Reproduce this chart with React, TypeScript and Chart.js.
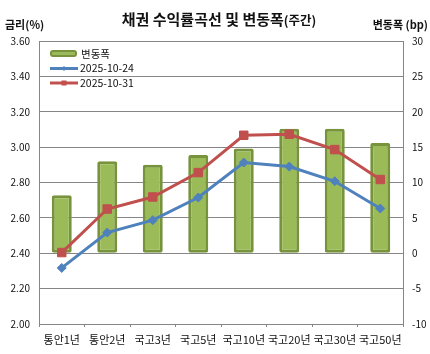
import React, { useEffect, useRef } from "react";
import { Chart, registerables } from "chart.js";

Chart.register(...registerables);

const categories = ["통안1년", "통안2년", "국고3년", "국고5년", "국고10년", "국고20년", "국고30년", "국고50년"];
const changeBp = [8.2, 13.0, 12.5, 13.9, 14.8, 17.6, 17.6, 15.6];
const yield1024 = [2.317, 2.517, 2.587, 2.715, 2.913, 2.89, 2.807, 2.653];
const yield1031 = [2.404, 2.65, 2.718, 2.856, 3.067, 3.073, 2.986, 2.817];
const legendLabels = ["변동폭", "2025-10-24", "2025-10-31"];
const titleMain = "채권 수익률곡선 및 변동폭";
const titleSub = "(주간)";
const leftAxisTitle = "금리(%)";
const rightAxisTitle = "변동폭 (bp)";

const FONT = "'Malgun Gothic', 'Noto Sans CJK KR', sans-serif";
const GREEN = "#9BBB59";
const GREEN_BORDER = "#77933C";
const BLUE = "#4F81BD";
const RED = "#C0504D";
const GRID = "#868686";

const decorPlugin = {
  id: "decor",
  afterDraw(chart: any) {
    const ctx = chart.ctx;
    ctx.save();
    ctx.fillStyle = "#111";
    ctx.textBaseline = "middle";
    // title
    ctx.font = `bold 15px ${FONT}`;
    const w1 = ctx.measureText(titleMain).width;
    ctx.font = `bold 12.5px ${FONT}`;
    const w2 = ctx.measureText(titleSub).width;
    const start = 219 - (w1 + w2) / 2;
    ctx.textAlign = "left";
    ctx.font = `bold 15px ${FONT}`;
    ctx.fillText(titleMain, start, 19);
    ctx.font = `bold 12.5px ${FONT}`;
    ctx.fillText(titleSub, start + w1, 20);
    // axis titles
    ctx.font = `bold 11px ${FONT}`;
    ctx.fillText(leftAxisTitle, 5, 25);
    ctx.textAlign = "right";
    ctx.fillText(rightAxisTitle, 428, 25);

    // legend
    ctx.textAlign = "left";
    ctx.font = `10.5px ${FONT}`;
    // bar item
    ctx.fillStyle = GREEN;
    ctx.strokeStyle = GREEN_BORDER;
    ctx.lineWidth = 2;
    ctx.beginPath();
    (ctx as any).roundRect ? ctx.roundRect(51, 51, 25, 5, 2) : ctx.rect(51, 51, 25, 5);
    ctx.fill();
    ctx.stroke();
    ctx.fillStyle = "#111";
    ctx.fillText(legendLabels[0], 81, 54);
    // blue line item
    ctx.strokeStyle = BLUE;
    ctx.lineWidth = 3;
    ctx.beginPath();
    ctx.moveTo(50, 68.5);
    ctx.lineTo(78, 68.5);
    ctx.stroke();
    ctx.fillStyle = BLUE;
    ctx.beginPath();
    ctx.moveTo(64, 66);
    ctx.lineTo(66.5, 68.5);
    ctx.lineTo(64, 71);
    ctx.lineTo(61.5, 68.5);
    ctx.closePath();
    ctx.fill();
    ctx.fillStyle = "#111";
    ctx.fillText(legendLabels[1], 80, 68.5);
    // red line item
    ctx.strokeStyle = RED;
    ctx.lineWidth = 3;
    ctx.beginPath();
    ctx.moveTo(50, 83);
    ctx.lineTo(78, 83);
    ctx.stroke();
    ctx.fillStyle = RED;
    ctx.fillRect(61.5, 80.5, 5, 5);
    ctx.fillStyle = "#111";
    ctx.fillText(legendLabels[2], 80, 83);
    ctx.restore();
  },
};

export default function App() {
  const ref = useRef<HTMLCanvasElement>(null);
  useEffect(() => {
    if (!ref.current) return;
    const chart = new Chart(ref.current, {
      type: "bar",
      data: {
        labels: categories,
        datasets: [
          {
            type: "line",
            label: legendLabels[1],
            data: yield1024,
            yAxisID: "y",
            borderColor: BLUE,
            backgroundColor: BLUE,
            borderWidth: 3,
            pointStyle: "rectRot",
            pointRadius: 4.5,
            pointBorderWidth: 1,
            tension: 0,
            order: 1,
          } as any,
          {
            type: "line",
            label: legendLabels[2],
            data: yield1031,
            yAxisID: "y",
            borderColor: RED,
            backgroundColor: RED,
            borderWidth: 3,
            pointStyle: "rect",
            pointRadius: 6,
            pointBorderWidth: 1,
            tension: 0,
            order: 0,
          } as any,
          {
            type: "bar",
            label: legendLabels[0],
            data: changeBp,
            yAxisID: "y2",
            backgroundColor: GREEN,
            borderColor: GREEN_BORDER,
            borderWidth: 3,
            borderSkipped: false,
            borderRadius: 2,
            categoryPercentage: 1,
            barPercentage: 0.44,
            order: 2,
          } as any,
        ],
      },
      options: {
        responsive: false,
        animation: false,
        layout: { padding: { top: 41, left: 0, right: 0, bottom: 0 } },
        plugins: {
          legend: { display: false },
          title: { display: false },
          tooltip: { enabled: false },
        },
        scales: {
          x: {
            offset: true,
            grid: {
              offset: true,
              drawOnChartArea: false,
              drawTicks: true,
              tickLength: 3,
              color: GRID,
            },
            border: { display: true, color: GRID, width: 1 },
            ticks: {
              color: "#111",
              font: { family: FONT, size: 11 },
              padding: 6,
              maxRotation: 0,
              autoSkip: false,
            },
            afterFit: (s: any) => {
              s.height = 30;
            },
          },
          y: {
            position: "left",
            min: 2,
            max: 3.6,
            grid: { color: GRID, drawTicks: false, lineWidth: 1 },
            border: { display: true, color: GRID },
            ticks: {
              stepSize: 0.2,
              color: "#111",
              font: { family: FONT, size: 10 },
              padding: 9,
              callback: (v: any) => Number(v).toFixed(2),
            },
            afterFit: (s: any) => {
              s.width = 39;
            },
          },
          y2: {
            position: "right",
            min: -10,
            max: 30,
            grid: { drawOnChartArea: false, drawTicks: false },
            border: { display: true, color: GRID },
            ticks: {
              stepSize: 5,
              color: "#111",
              font: { family: FONT, size: 10 },
              padding: 9,
            },
            afterFit: (s: any) => {
              s.width = 27;
            },
          },
        },
      },
      plugins: [decorPlugin],
    });
    return () => chart.destroy();
  }, []);
  return (
    <div style={{ position: "fixed", left: 0, top: 0, width: 430, height: 354, background: "#fff" }}>
      <canvas ref={ref} width={430} height={354} style={{ display: "block" }} />
    </div>
  );
}
